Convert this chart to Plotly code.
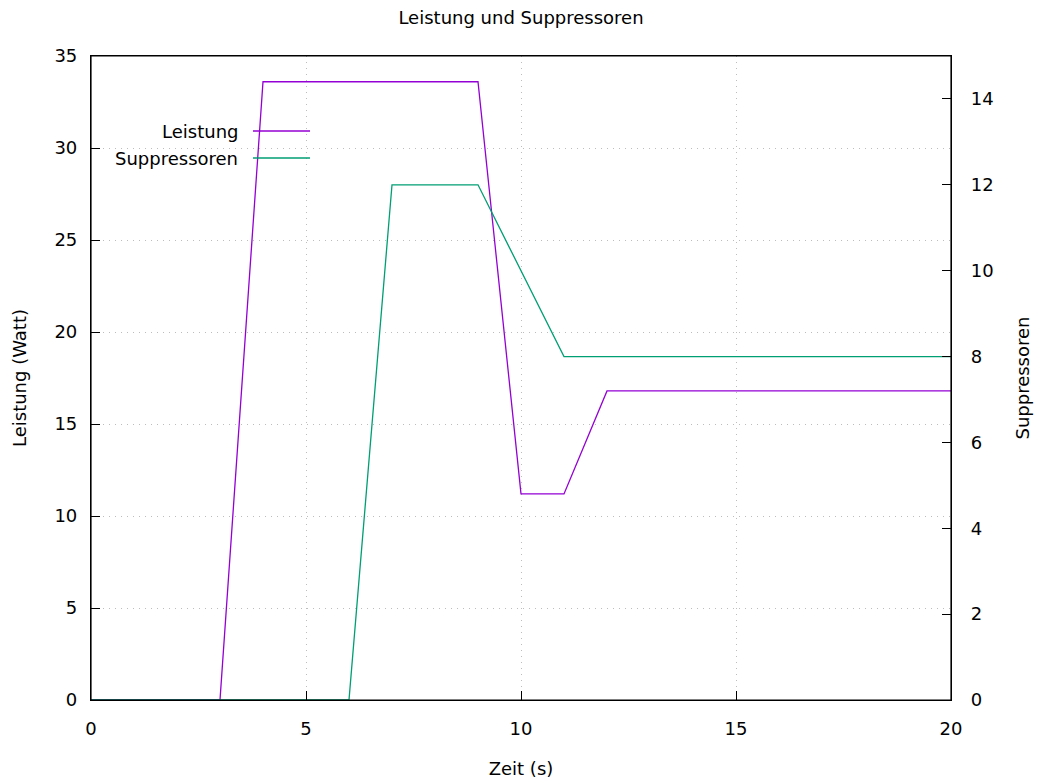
import plotly.graph_objects as go

# Zeitachse (s) und Messwerte
zeit = [0, 3, 4, 9, 10, 11, 12, 20]
leistung = [0, 0, 33.6, 33.6, 11.2, 11.2, 16.8, 16.8]

zeit_supp = [0, 6, 7, 9, 11, 20]
suppressoren = [0, 0, 12, 12, 8, 8]

x_ticks = [0, 5, 10, 15, 20]
y_ticks = [0, 5, 10, 15, 20, 25, 30, 35]
y2_ticks = [0, 2, 4, 6, 8, 10, 12, 14]

series_names = ["Leistung", "Suppressoren"]
colors = ["#9400d3", "#009e73"]

FONT = "DejaVu Sans"
FS = 18
W, H = 1040, 783
L, R, T, B = 91, 89, 56, 83
pw, ph = W - L - R, H - T - B

fig = go.Figure()
fig.add_trace(go.Scatter(x=zeit, y=leistung, mode="lines", name=series_names[0],
                         line=dict(color=colors[0], width=1.3), yaxis="y"))
fig.add_trace(go.Scatter(x=zeit_supp, y=suppressoren, mode="lines", name=series_names[1],
                         line=dict(color=colors[1], width=1.3), yaxis="y2"))

axis_common = dict(
    showline=True, linecolor="#000000", linewidth=1.2,
    ticks="inside", ticklen=9, tickcolor="#000000", tickwidth=1,
    tickfont=dict(family=FONT, size=FS, color="#000000"),
    zeroline=False, automargin=False,
)
grid_style = dict(showgrid=True, gridcolor="#bdbdbd", griddash="1px,5px", gridwidth=1)

fig.update_layout(
    width=W, height=H,
    margin=dict(l=L, r=R, t=T, b=B),
    plot_bgcolor="white", paper_bgcolor="white",
    showlegend=False,
    font=dict(family=FONT, size=FS, color="#000000"),
    title=dict(text="Leistung und Suppressoren", x=(L + pw / 2) / W, xanchor="center",
               y=1 - 18 / H, yanchor="middle", font=dict(family=FONT, size=FS)),
    xaxis=dict(range=[0, 20], tickvals=x_ticks, mirror=True,
               ticklabelstandoff=12,
               title=dict(text="Zeit (s)", font=dict(family=FONT, size=FS), standoff=24),
               **grid_style, **axis_common),
    yaxis=dict(range=[0, 35], tickvals=y_ticks,
               ticklabelstandoff=9,
               title=dict(text="Leistung (Watt)", font=dict(family=FONT, size=FS), standoff=23),
               **grid_style, **axis_common),
    yaxis2=dict(range=[0, 15], tickvals=y2_ticks, overlaying="y", side="right",
                showgrid=False, ticklabelstandoff=15,
                title=dict(text="Suppressoren", font=dict(family=FONT, size=FS), standoff=23),
                **axis_common),
)

# Rahmen über den Kurven
fig.add_shape(type="rect", xref="paper", yref="paper", x0=0, x1=1, y0=0, y1=1,
              line=dict(color="#000000", width=1.2), layer="above")

# Legende: Text rechtsbündig vor dem Linienmuster
legend_rows = [131, 158]
for name, color, py in zip(series_names, colors, legend_rows):
    yp = (H - B - py) / ph
    fig.add_annotation(text=name, xref="paper", yref="paper",
                       x=(240 - L) / pw, y=yp, xanchor="right", yanchor="middle",
                       showarrow=False, font=dict(family=FONT, size=FS, color="#000000"))
    fig.add_shape(type="line", xref="paper", yref="paper",
                  x0=(253 - L) / pw, x1=(310 - L) / pw, y0=yp, y1=yp,
                  line=dict(color=color, width=1.3))

fig.write_html("out.html")
